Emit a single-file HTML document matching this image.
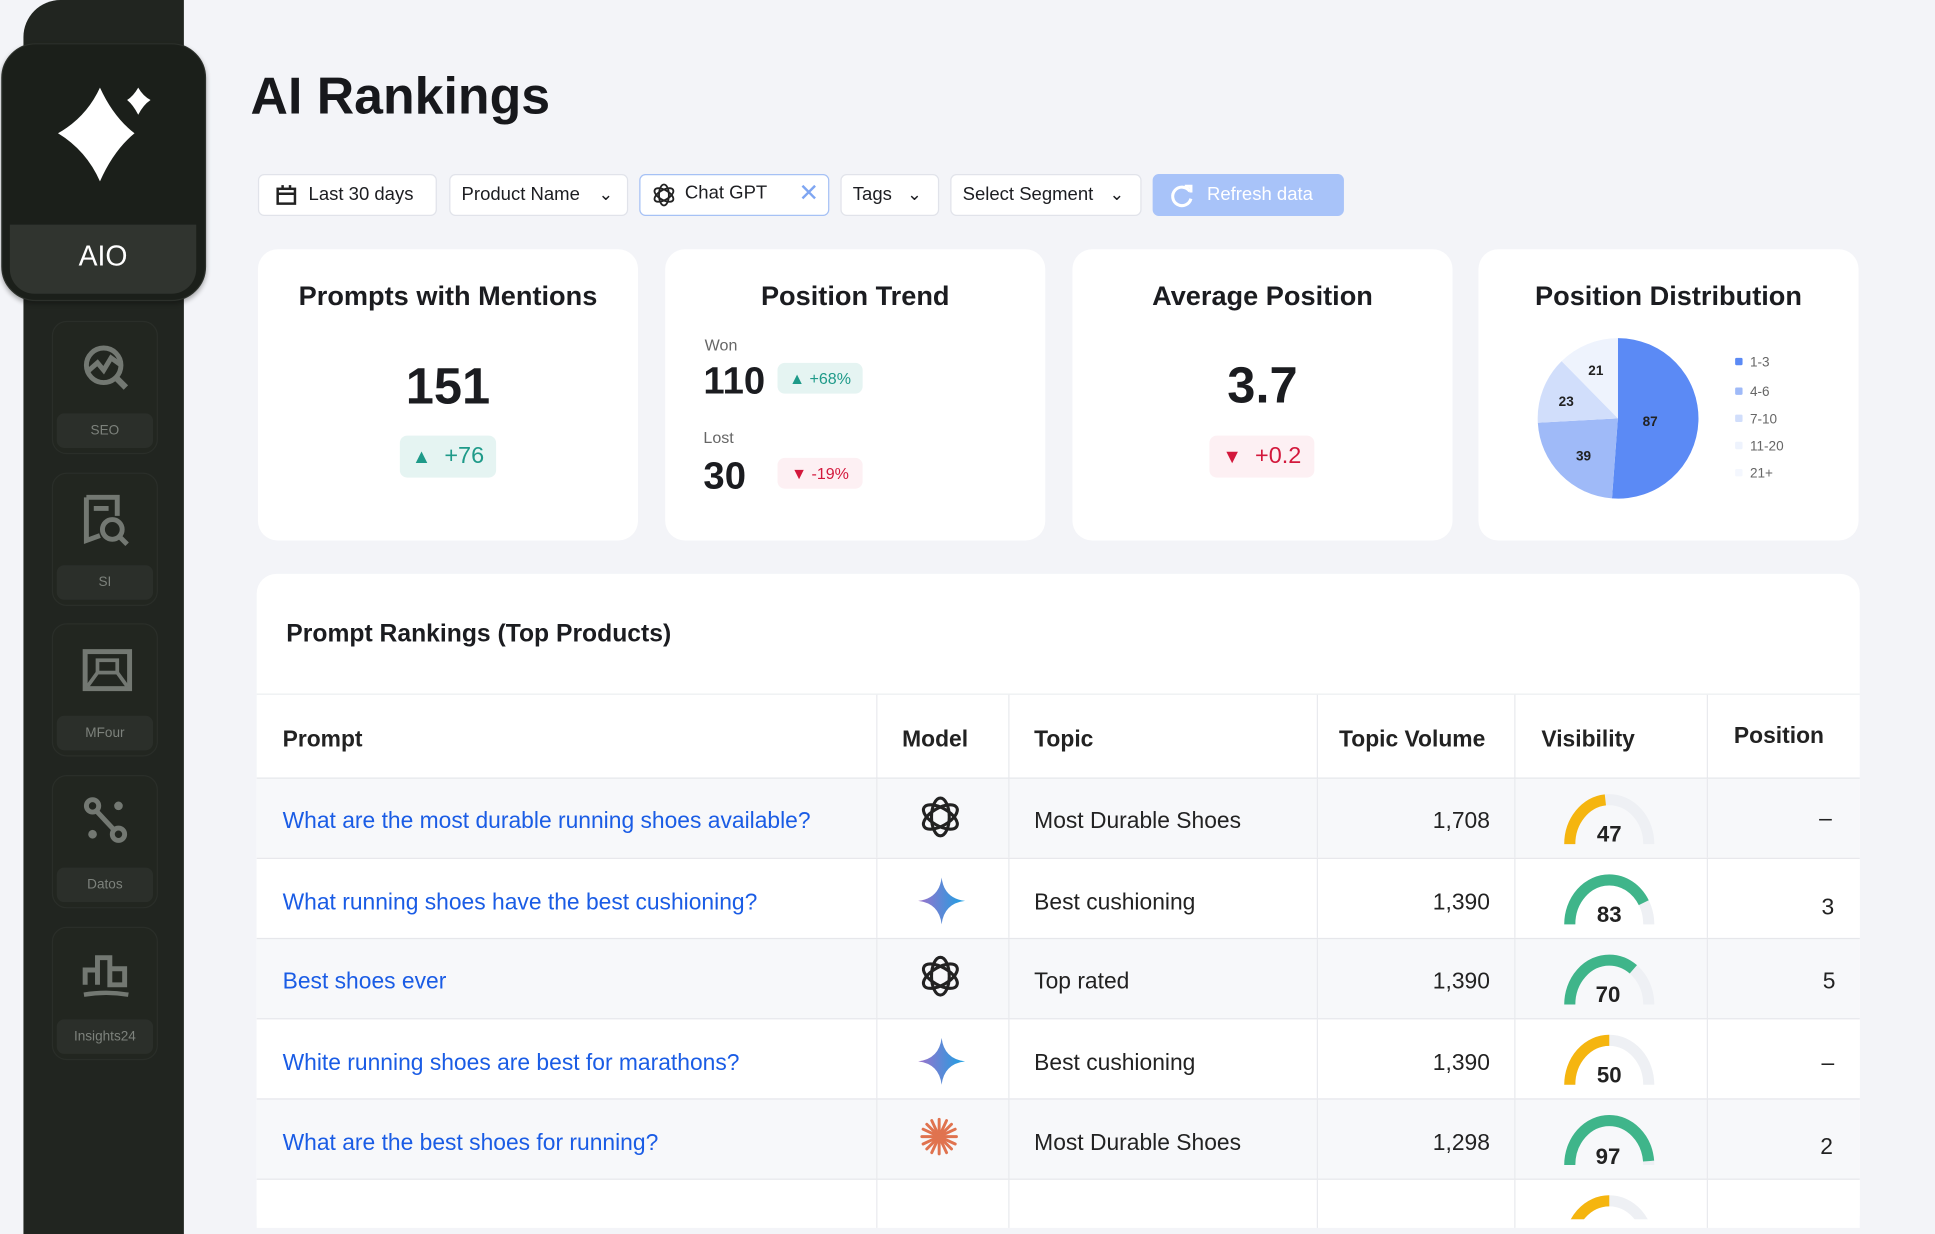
<!DOCTYPE html>
<html><head><meta charset="utf-8"><style>
*{margin:0;padding:0;box-sizing:border-box}
html,body{width:1935px;height:1202px;overflow:hidden;background:#f3f4f8;font-family:"Liberation Sans",sans-serif}
#w{position:absolute;left:0;top:0;width:1568px;height:974px;transform:scale(1.2341);transform-origin:0 0}
.a{position:absolute}
.nav{position:absolute;left:42px;width:86px;height:108px;border:1px solid #2a2e29;border-radius:12px;background:#222620}
.nav .lb{position:absolute;left:3px;right:3px;bottom:4px;height:28px;background:#2b2f2a;border-radius:6px;color:#7d827c;font-size:11px;text-align:center;line-height:28px}
.nav svg{position:absolute;left:22px;top:16px}
.f{position:absolute;top:141px;height:34px;background:#fff;border:1px solid #e1e3ea;border-radius:5px;font-size:15px;color:#1c1d21;line-height:32px}
.card{position:absolute;top:202px;height:236px;width:308px;background:#fff;border-radius:16px}
.ct{position:absolute;left:0;right:0;top:25px;text-align:center;font-size:22px;font-weight:bold;color:#1b1c20}
.big{position:absolute;left:0;right:0;text-align:center;font-size:41px;color:#1b1c20;font-weight:bold}
.bd{position:absolute;border-radius:6px;font-size:19px}
.row{position:absolute;left:208px;width:1299px;height:65px;border-top:1px solid #e6e7eb}
.c{position:absolute;top:0;height:100%;border-left:1px solid #e9eaee}
.t{position:absolute;font-size:18.5px;color:#222}
.lk{color:#1a5ce5}
</style></head><body><div id="w">
<div class="a" style="left:19px;top:0;width:130px;height:1000px;background:#212520;border-radius:30px 0 0 0"></div>
<div class="a" style="left:1px;top:35px;width:166px;height:209px;background:#1b1f1a;border:1px solid #2c302b;border-radius:28px;box-shadow:0 2px 4px rgba(0,0,0,.3)"></div>
<div class="a" style="left:8px;top:182px;width:151px;height:56px;background:#30342f;border-radius:0 0 20px 20px;color:#fff;font-size:23px;text-align:center;line-height:50px">AIO</div>
<svg class="a" style="left:40px;top:65px" width="90" height="90"><path d="M41 6 Q52 30 69 43 Q52 57 41 82 Q30 57 7 43 Q30 30 41 6Z" fill="#fff"/><path d="M72 6 Q76 13 82 16 Q76 20 72 28 Q68 20 63 16 Q68 13 72 6Z" fill="#fff"/></svg>
<div class="nav" style="top:260px"><svg width="44" height="44" viewBox="0 0 44 44"><circle cx="19" cy="19" r="14" fill="none" stroke="#737872" stroke-width="4"/><path d="M6 24 L14 17 L19 23 L25 13 L32 18" fill="none" stroke="#737872" stroke-width="4"/><path d="M29 29 L37 37" stroke="#737872" stroke-width="5"/></svg><div class="lb">SEO</div></div>
<div class="nav" style="top:383px"><svg width="44" height="44" viewBox="0 0 44 44"><path d="M5 3 H30 V18 M5 3 V38 L16 34" fill="none" stroke="#737872" stroke-width="4"/><path d="M11 12 H23" stroke="#737872" stroke-width="4"/><circle cx="26" cy="29" r="8" fill="none" stroke="#737872" stroke-width="4"/><path d="M32 35 L38 41" stroke="#737872" stroke-width="4"/></svg><div class="lb">SI</div></div>
<div class="nav" style="top:505px"><svg width="44" height="44" viewBox="0 0 44 44"><rect x="4" y="6" width="36" height="30" fill="none" stroke="#737872" stroke-width="4"/><rect x="14" y="13" width="16" height="10" fill="none" stroke="#737872" stroke-width="3"/><path d="M6 34 L14 23 M38 34 L30 23" stroke="#737872" stroke-width="3"/></svg><div class="lb">MFour</div></div>
<div class="nav" style="top:628px"><svg width="44" height="44" viewBox="0 0 44 44"><circle cx="10" cy="8" r="5" fill="none" stroke="#737872" stroke-width="4"/><circle cx="31" cy="31" r="5" fill="none" stroke="#737872" stroke-width="4"/><path d="M13 12 L27 27" stroke="#737872" stroke-width="4"/><circle cx="31" cy="8" r="3.5" fill="#737872"/><circle cx="10" cy="31" r="3.5" fill="#737872"/></svg><div class="lb">Datos</div></div>
<div class="nav" style="top:751px"><svg width="44" height="44" viewBox="0 0 44 44"><path d="M4 30 V18 H14 V30 M14 30 V8 H24 V30 M24 30 V17 H36 V30 Z" fill="none" stroke="#737872" stroke-width="4"/><path d="M3 38 Q21 35 39 38" stroke="#737872" stroke-width="3.5" fill="none"/></svg><div class="lb">Insights24</div></div>

<div class="a" style="left:203px;top:54px;font-size:42px;font-weight:bold;color:#17181c">AI Rankings</div>
<div class="f" style="left:209px;width:145px;padding-left:40px">Last 30 days<svg class="a" style="left:13px;top:7px" width="18" height="18"><rect x="2" y="4" width="14" height="12" fill="none" stroke="#222" stroke-width="2"/><path d="M2 8 H16 M6 1 V5 M12 1 V5" stroke="#222" stroke-width="2"/></svg></div>
<div class="f" style="left:364px;width:145px;padding-left:9px">Product Name<span class="a" style="left:120px;top:-1px;font-size:14px">&#8964;</span></div>
<div class="f" style="left:518px;width:154px;padding-left:36px;border:1.5px solid #a6c1f5;line-height:30px">Chat GPT<span class="a" style="left:128px;top:0;color:#7fa6f2;font-size:20px">✕</span><svg class="a" style="left:9px;top:6px" width="20" height="20" viewBox="0 0 20 20"><g fill="none" stroke="#222" stroke-width="1.5"><ellipse cx="10" cy="10" rx="4" ry="8.5"/><ellipse cx="10" cy="10" rx="4" ry="8.5" transform="rotate(60 10 10)"/><ellipse cx="10" cy="10" rx="4" ry="8.5" transform="rotate(120 10 10)"/></g></svg></div>
<div class="f" style="left:681px;width:80px;padding-left:9px">Tags<span class="a" style="left:53px;top:-1px;font-size:14px">&#8964;</span></div>
<div class="f" style="left:770px;width:155px;padding-left:9px">Select Segment<span class="a" style="left:128px;top:-1px;font-size:14px">&#8964;</span></div>
<div class="f" style="left:934px;width:155px;padding-left:43px;background:#a8c3f9;border-color:#a8c3f9;color:#fff">Refresh data<svg class="a" style="left:13px;top:7px" width="20" height="20"><path d="M16 6 A7.5 7.5 0 1 0 17 12" fill="none" stroke="#fff" stroke-width="2.5"/><path d="M12 2 L17 2 L17 7" fill="none" stroke="#fff" stroke-width="2.5"/></svg></div>
<div class="card" style="left:209px"><div class="ct">Prompts with Mentions</div><div class="big" style="top:88px">151</div>
<div class="bd" style="left:115px;top:151px;width:78px;height:34px;background:#e5f4f2;color:#1e9a89;line-height:34px;text-align:center"><span style="font-size:16px">▲</span>&nbsp; +76</div></div>
<div class="card" style="left:539px"><div class="ct">Position Trend</div>
<div class="a" style="left:32px;top:70px;font-size:13px;color:#666">Won</div>
<div class="a" style="left:31px;top:89px;font-size:31px;color:#1b1c20;font-weight:bold">110</div>
<div class="bd" style="left:91px;top:92px;width:69px;height:25px;background:#e5f4f2;color:#1e9a89;font-size:13px;line-height:25px;text-align:center">▲ +68%</div>
<div class="a" style="left:31px;top:145px;font-size:13px;color:#666">Lost</div>
<div class="a" style="left:31px;top:166px;font-size:31px;color:#1b1c20;font-weight:bold">30</div>
<div class="bd" style="left:91px;top:169px;width:69px;height:25px;background:#fdf0f3;color:#d3183c;font-size:13px;line-height:25px;text-align:center">▼ -19%</div></div>
<div class="card" style="left:869px"><div class="ct">Average Position</div><div class="big" style="top:87px">3.7</div>
<div class="bd" style="left:111px;top:151px;width:85px;height:34px;background:#fdf0f3;color:#d3183c;line-height:34px;text-align:center"><span style="font-size:16px">▼</span>&nbsp; +0.2</div></div>
<div class="card" style="left:1198px;width:308px"><div class="ct">Position Distribution</div>
<svg class="a" style="left:43px;top:67px" width="140" height="140"><path d="M70 70 L70 5 A65 65 0 1 1 65.2 134.8Z" fill="#5b8af5"/><path d="M70 70 L65.2 134.8 A65 65 0 0 1 5.1 73.6Z" fill="#9fbaf8"/><path d="M70 70 L5.1 73.6 A65 65 0 0 1 24.4 23.6Z" fill="#d1defb"/><path d="M70 70 L24.4 23.6 A65 65 0 0 1 70 5Z" fill="#eef3fd"/>
<g font-size="11" font-weight="bold" fill="#222" font-family="Liberation Sans"><text x="90" y="76">87</text><text x="36" y="104">39</text><text x="22" y="60">23</text><text x="46" y="35">21</text></g></svg>
<svg class="a" style="left:205px;top:85px" width="60" height="100" font-family="Liberation Sans" font-size="11" fill="#666"><rect x="3" y="3" width="6" height="6" rx="1" fill="#5b8af5"/><text x="15" y="10">1-3</text><rect x="3" y="27" width="6" height="6" rx="1" fill="#9fbaf8"/><text x="15" y="34">4-6</text><rect x="3" y="49" width="6" height="6" rx="1" fill="#d1defb"/><text x="15" y="56">7-10</text><rect x="3" y="71" width="6" height="6" rx="1" fill="#eef3fd"/><text x="15" y="78">11-20</text><rect x="3" y="93" width="6" height="6" rx="1" fill="#f4f7fe"/><text x="15" y="100">21+</text></svg></div>
<div class="a" style="left:208px;top:465px;width:1299px;height:520px;background:#fff;border-radius:16px 16px 0 0"></div>
<div class="a" style="left:232px;top:503px;font-size:20px;font-weight:bold;color:#1b1c20">Prompt Rankings (Top Products)</div>
<div class="row" style="top:562px;height:68px;border-top:1px solid #eceef1">
<div class="c" style="left:502px"></div><div class="c" style="left:609px"></div><div class="c" style="left:859px"></div><div class="c" style="left:1019px"></div><div class="c" style="left:1175px"></div>
<div class="t" style="left:21px;top:25px;font-weight:bold">Prompt</div><div class="t" style="left:523px;top:25px;font-weight:bold">Model</div><div class="t" style="left:630px;top:25px;font-weight:bold">Topic</div><div class="t" style="left:877px;top:25px;font-weight:bold">Topic Volume</div><div class="t" style="left:1041px;top:25px;font-weight:bold">Visibility</div><div class="t" style="left:1197px;top:22px;font-weight:bold">Position</div></div>

<div class="row" style="top:630px;background:#f7f8fa"><div class="c" style="left:502px"></div><div class="c" style="left:609px"></div><div class="c" style="left:859px"></div><div class="c" style="left:1019px"></div><div class="c" style="left:1175px"></div>
<div class="t lk" style="left:21px;top:23px">What are the most durable running shoes available?</div>
<svg class="a" style="left:536px;top:13px" width="36" height="36" viewBox="0 0 20 20"><g fill="none" stroke="#222" stroke-width="1.4"><ellipse cx="10" cy="10" rx="4" ry="8.5"/><ellipse cx="10" cy="10" rx="4" ry="8.5" transform="rotate(60 10 10)"/><ellipse cx="10" cy="10" rx="4" ry="8.5" transform="rotate(120 10 10)"/></g></svg>
<div class="t" style="left:630px;top:23px">Most Durable Shoes</div><div class="t" style="left:953px;top:23px">1,708</div>
<svg class="a" style="left:1058px;top:12px" width="80" height="45"><path d="M6 41 A32 36 0 0 1 70 41" fill="none" stroke="#eef0f4" stroke-width="9"/><path d="M6 41 A32 36 0 0 1 70 41" fill="none" stroke="#f5b50f" stroke-width="9" pathLength="100" stroke-dasharray="47 100"/><text x="38" y="39" text-anchor="middle" font-size="18" font-weight="bold" fill="#222" font-family="Liberation Sans">47</text></svg>
<div class="t" style="left:1266px;top:21px">–</div></div>

<div class="row" style="top:695px;background:#fff"><div class="c" style="left:502px"></div><div class="c" style="left:609px"></div><div class="c" style="left:859px"></div><div class="c" style="left:1019px"></div><div class="c" style="left:1175px"></div>
<div class="t lk" style="left:21px;top:24px">What running shoes have the best cushioning?</div>
<svg class="a" style="left:535px;top:14px" width="40" height="40" viewBox="0 0 40 40"><defs><linearGradient id="g" x1="0" y1="0" x2="1" y2="0"><stop offset="0" stop-color="#9b72cb"/><stop offset="1" stop-color="#1ba1e3"/></linearGradient></defs><path d="M20 1 Q22 18 39 20 Q22 22 20 39 Q18 22 1 20 Q18 18 20 1Z" fill="url(#g)"/></svg>
<div class="t" style="left:630px;top:24px">Best cushioning</div><div class="t" style="left:953px;top:24px">1,390</div>
<svg class="a" style="left:1058px;top:12px" width="80" height="45"><path d="M6 41 A32 36 0 0 1 70 41" fill="none" stroke="#eef0f4" stroke-width="9"/><path d="M6 41 A32 36 0 0 1 70 41" fill="none" stroke="#3fb58a" stroke-width="9" pathLength="100" stroke-dasharray="83 100"/><text x="38" y="39" text-anchor="middle" font-size="18" font-weight="bold" fill="#222" font-family="Liberation Sans">83</text></svg>
<div class="t" style="left:1268px;top:28px">3</div></div>

<div class="row" style="top:760px;background:#f7f8fa"><div class="c" style="left:502px"></div><div class="c" style="left:609px"></div><div class="c" style="left:859px"></div><div class="c" style="left:1019px"></div><div class="c" style="left:1175px"></div>
<div class="t lk" style="left:21px;top:23px">Best shoes ever</div>
<svg class="a" style="left:536px;top:12px" width="36" height="36" viewBox="0 0 20 20"><g fill="none" stroke="#222" stroke-width="1.4"><ellipse cx="10" cy="10" rx="4" ry="8.5"/><ellipse cx="10" cy="10" rx="4" ry="8.5" transform="rotate(60 10 10)"/><ellipse cx="10" cy="10" rx="4" ry="8.5" transform="rotate(120 10 10)"/></g></svg>
<div class="t" style="left:630px;top:23px">Top rated</div><div class="t" style="left:953px;top:23px">1,390</div>
<svg class="a" style="left:1058px;top:12px" width="80" height="45"><path d="M6 41 A32 36 0 0 1 70 41" fill="none" stroke="#eef0f4" stroke-width="9"/><path d="M6 41 A32 36 0 0 1 70 41" fill="none" stroke="#3fb58a" stroke-width="9" pathLength="100" stroke-dasharray="70 100"/><text x="37" y="39" text-anchor="middle" font-size="18" font-weight="bold" fill="#222" font-family="Liberation Sans">70</text></svg>
<div class="t" style="left:1269px;top:23px">5</div></div>

<div class="row" style="top:825px;background:#fff"><div class="c" style="left:502px"></div><div class="c" style="left:609px"></div><div class="c" style="left:859px"></div><div class="c" style="left:1019px"></div><div class="c" style="left:1175px"></div>
<div class="t lk" style="left:21px;top:24px">White running shoes are best for marathons?</div>
<svg class="a" style="left:535px;top:14px" width="40" height="40" viewBox="0 0 40 40"><path d="M20 1 Q22 18 39 20 Q22 22 20 39 Q18 22 1 20 Q18 18 20 1Z" fill="url(#g)"/></svg>
<div class="t" style="left:630px;top:24px">Best cushioning</div><div class="t" style="left:953px;top:24px">1,390</div>
<svg class="a" style="left:1058px;top:12px" width="80" height="45"><path d="M6 41 A32 36 0 0 1 70 41" fill="none" stroke="#eef0f4" stroke-width="9"/><path d="M6 41 A32 36 0 0 1 70 41" fill="none" stroke="#f5b50f" stroke-width="9" pathLength="100" stroke-dasharray="50 100"/><text x="38" y="39" text-anchor="middle" font-size="18" font-weight="bold" fill="#222" font-family="Liberation Sans">50</text></svg>
<div class="t" style="left:1268px;top:24px">–</div></div>

<div class="row" style="top:890px;background:#f7f8fa"><div class="c" style="left:502px"></div><div class="c" style="left:609px"></div><div class="c" style="left:859px"></div><div class="c" style="left:1019px"></div><div class="c" style="left:1175px"></div>
<div class="t lk" style="left:21px;top:24px">What are the best shoes for running?</div>
<svg class="a" style="left:537px;top:14px" width="32" height="32" viewBox="0 0 32 32"><g stroke="#e0734f" stroke-width="2.4" stroke-linecap="round"><path d="M16 2 V30"/><path d="M2 16 H30"/><path d="M6 6 L26 26"/><path d="M26 6 L6 26"/><path d="M10 3 L22 29"/><path d="M22 3 L10 29"/><path d="M3 10 L29 22"/><path d="M3 22 L29 10"/></g></svg>
<div class="t" style="left:630px;top:24px">Most Durable Shoes</div><div class="t" style="left:953px;top:24px">1,298</div>
<svg class="a" style="left:1058px;top:12px" width="80" height="45"><path d="M6 41 A32 36 0 0 1 70 41" fill="none" stroke="#eef0f4" stroke-width="9"/><path d="M6 41 A32 36 0 0 1 70 41" fill="none" stroke="#3fb58a" stroke-width="9" pathLength="100" stroke-dasharray="97 100"/><text x="37" y="40" text-anchor="middle" font-size="18" font-weight="bold" fill="#222" font-family="Liberation Sans">97</text></svg>
<div class="t" style="left:1267px;top:27px">2</div></div>

<div class="row" style="top:955px;background:#fff;height:40px"><div class="c" style="left:502px"></div><div class="c" style="left:609px"></div><div class="c" style="left:859px"></div><div class="c" style="left:1019px"></div><div class="c" style="left:1175px"></div>
<svg class="a" style="left:1058px;top:12px" width="80" height="20"><path d="M6 41 A32 36 0 0 1 70 41" fill="none" stroke="#eef0f4" stroke-width="9"/><path d="M6 41 A32 36 0 0 1 70 41" fill="none" stroke="#f5b50f" stroke-width="9" pathLength="100" stroke-dasharray="50 100"/></svg></div>
</div></body></html>
